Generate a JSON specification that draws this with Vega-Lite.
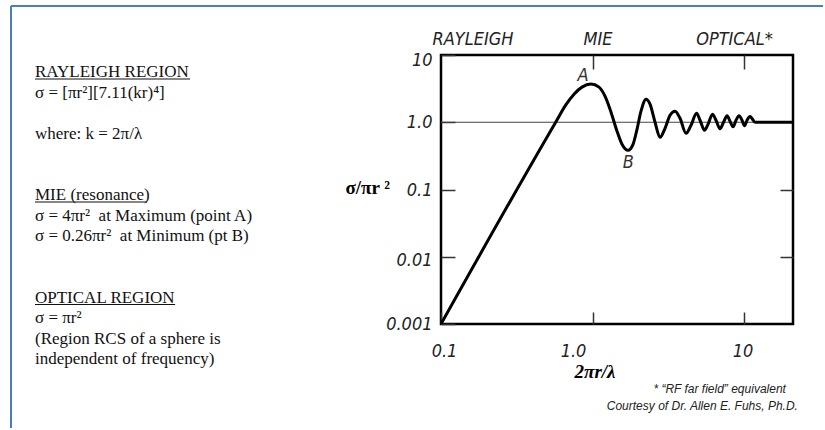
{
  "$schema": "https://vega.github.io/schema/vega-lite/v6.json",
  "background": "white",
  "padding": {"left": 10, "top": 5, "right": 0, "bottom": 0},
  "bounds": "flush",
  "spacing": 130,
  "config": {"view": {"stroke": null}},
  "datasets": {
    "frame": [
      {"x0": 0, "x1": 0, "y0": -3.39, "y1": 17.2},
      {"x0": 0, "x1": 2.7067, "y0": -3.39, "y1": -3.39}
    ],
    "legendText": [
      {"line": 0, "text": "RAYLEIGH REGION"},
      {"line": 1, "text": "σ = [πr²][7.11(kr)⁴]"},
      {"line": 3, "text": "where: k = 2π/λ"},
      {"line": 6, "text": "MIE (resonance)"},
      {"line": 7, "text": "σ = 4πr²\u00a0 at Maximum (point A)"},
      {"line": 8, "text": "σ = 0.26πr²\u00a0 at Minimum (pt B)"},
      {"line": 11, "text": "OPTICAL REGION"},
      {"line": 12, "text": "σ = πr²"},
      {"line": 13, "text": "(Region RCS of a sphere is"},
      {"line": 14, "text": "independent of frequency)"}
    ],
    "underlines": [
      {"line": 0, "from": 0.08, "to": 0.597},
      {"line": 6, "from": 0.08, "to": 0.453},
      {"line": 11, "from": 0.08, "to": 0.547}
    ],
    "curve": [
      {"kr": 0.1, "rcs": 0.001},
      {"kr": 0.574, "rcs": 1.02},
      {"kr": 0.668, "rcs": 1.825},
      {"kr": 0.755, "rcs": 2.618},
      {"kr": 0.852, "rcs": 3.33},
      {"kr": 0.977, "rcs": 3.69},
      {"kr": 1.104, "rcs": 3.33},
      {"kr": 1.209, "rcs": 2.444},
      {"kr": 1.325, "rcs": 1.41},
      {"kr": 1.452, "rcs": 0.734},
      {"kr": 1.566, "rcs": 0.47},
      {"kr": 1.715, "rcs": 0.382},
      {"kr": 1.851, "rcs": 0.47},
      {"kr": 1.967, "rcs": 0.786},
      {"kr": 2.089, "rcs": 1.459},
      {"kr": 2.255, "rcs": 2.205},
      {"kr": 2.397, "rcs": 1.857},
      {"kr": 2.586, "rcs": 1.0},
      {"kr": 2.79, "rcs": 0.597},
      {"kr": 3.01, "rcs": 0.814},
      {"kr": 3.248, "rcs": 1.272},
      {"kr": 3.504, "rcs": 1.459},
      {"kr": 3.781, "rcs": 1.147},
      {"kr": 4.142, "rcs": 0.685},
      {"kr": 4.469, "rcs": 0.902},
      {"kr": 4.86, "rcs": 1.362},
      {"kr": 5.125, "rcs": 1.071},
      {"kr": 5.487, "rcs": 0.76},
      {"kr": 5.788, "rcs": 0.934},
      {"kr": 6.196, "rcs": 1.316},
      {"kr": 6.535, "rcs": 1.071},
      {"kr": 6.944, "rcs": 0.8},
      {"kr": 7.324, "rcs": 1.0},
      {"kr": 7.723, "rcs": 1.25},
      {"kr": 8.083, "rcs": 1.035},
      {"kr": 8.46, "rcs": 0.857},
      {"kr": 8.855, "rcs": 1.071},
      {"kr": 9.268, "rcs": 1.25},
      {"kr": 9.7, "rcs": 1.071},
      {"kr": 10.08, "rcs": 0.887},
      {"kr": 10.47, "rcs": 1.071},
      {"kr": 10.96, "rcs": 1.216},
      {"kr": 11.38, "rcs": 1.108},
      {"kr": 11.82, "rcs": 1.0},
      {"kr": 21.05, "rcs": 1.0}
    ],
    "regions": [
      {"kr": 0.1626, "rcs": 10, "label": "RAYLEIGH"},
      {"kr": 1.087, "rcs": 10, "label": "MIE"},
      {"kr": 8.65, "rcs": 10, "label": "OPTICAL*"}
    ],
    "points": [
      {"kr": 0.866, "rcs": 4.95, "label": "A"},
      {"kr": 1.72, "rcs": 0.244, "label": "B"}
    ],
    "xTitle": [{"kr": 1.039, "rcs": 0.000193, "label": "2πr/λ"}],
    "yTitle": [{"kr": 0.0461, "rcs": 0.105, "label": "σ/πr ²"}],
    "credits": [
      {"kr": 18.9, "rcs": 0.000108, "label": "* “RF far field” equivalent"},
      {"kr": 22.7, "rcs": 0.0000604, "label": "Courtesy of Dr. Allen E. Fuhs, Ph.D."}
    ]
  },
  "hconcat": [
    {
      "width": 300,
      "height": 307.5,
      "layer": [
        {
          "data": {"name": "frame"},
          "mark": {"type": "rule", "color": "#4a7ebb", "strokeWidth": 2, "clip": false},
          "encoding": {
            "x": {"field": "x0", "type": "quantitative", "scale": {"domain": [0, 1], "nice": false, "zero": false}, "axis": null},
            "x2": {"field": "x1"},
            "y": {"field": "y0", "type": "quantitative", "scale": {"domain": [-1, 14], "nice": false, "zero": false, "reverse": true}, "axis": null},
            "y2": {"field": "y1"}
          }
        },
        {
          "data": {"name": "legendText"},
          "mark": {"type": "text", "align": "left", "baseline": "alphabetic", "dy": 1.5, "font": "Liberation Serif", "fontSize": 17, "color": "#111"},
          "encoding": {
            "x": {"datum": 0.08, "type": "quantitative", "scale": {"domain": [0, 1], "nice": false, "zero": false}, "axis": null},
            "y": {"field": "line", "type": "quantitative", "scale": {"domain": [-1, 14], "nice": false, "zero": false, "reverse": true}, "axis": null},
            "text": {"field": "text"}
          }
        },
        {
          "data": {"name": "underlines"},
          "mark": {"type": "rule", "color": "#111", "strokeWidth": 1.2, "yOffset": 3.5},
          "encoding": {
            "x": {"field": "from", "type": "quantitative", "scale": {"domain": [0, 1], "nice": false, "zero": false}, "axis": null},
            "x2": {"field": "to"},
            "y": {"field": "line", "type": "quantitative", "scale": {"domain": [-1, 14], "nice": false, "zero": false, "reverse": true}, "axis": null}
          }
        }
      ]
    },
    {
      "width": 352,
      "height": 269,
      "view": {"stroke": "black", "strokeWidth": 2.5},
      "resolve": {"axis": {"x": "independent", "y": "independent"}},
      "layer": [
        {
          "data": {"values": [{"level": 1}]},
          "mark": {"type": "rule", "color": "#444", "strokeWidth": 1.2},
          "encoding": {
            "y": {
              "field": "level", "type": "quantitative",
              "scale": {"type": "log", "domain": [0.001, 10], "nice": false},
              "axis": {"orient": "right", "values": [0.01, 0.1], "labels": false, "domain": false, "grid": false, "tickSize": -13, "tickColor": "#333", "tickWidth": 1.5, "title": null}
            }
          }
        },
        {
          "data": {"name": "curve"},
          "mark": {"type": "line", "color": "black", "strokeWidth": 3, "interpolate": "monotone", "strokeJoin": "round", "clip": true},
          "encoding": {
            "x": {
              "field": "kr", "type": "quantitative",
              "scale": {"type": "log", "domain": [0.1, 21.05], "nice": false},
              "axis": {
                "orient": "bottom", "values": [0.1, 1, 10], "format": "~g",
                "labelExpr": "datum.value == 1 ? '1.0' : datum.label",
                "labelFlush": false,
                "labelFont": "'Liberation Sans Narrow', 'DejaVu Sans Condensed', sans-serif",
                "labelFontSize": 18, "labelFontStyle": "italic", "labelColor": "#222",
                "labelPadding": 30,
                "labelOffset": {"condition": [{"test": "datum.value == 1", "value": -19.5}, {"test": "datum.value < 0.5", "value": 3}], "value": -1.5},
                "tickSize": -12, "tickColor": "#333", "tickWidth": 1.5,
                "domain": false, "grid": false, "title": null
              }
            },
            "y": {
              "field": "rcs", "type": "quantitative",
              "scale": {"type": "log", "domain": [0.001, 10], "nice": false},
              "axis": {
                "orient": "left", "values": [0.001, 0.01, 0.1, 1, 10], "format": "~g",
                "labelExpr": "datum.value == 1 ? '1.0' : datum.label",
                "labelFlush": false,
                "labelFont": "'Liberation Sans Narrow', 'DejaVu Sans Condensed', sans-serif",
                "labelFontSize": 18, "labelFontStyle": "italic", "labelColor": "#222",
                "labelPadding": 23, "labelBaseline": "middle",
                "labelOffset": {"condition": [{"test": "datum.value == 10", "value": 5.5}, {"test": "datum.value == 0.01", "value": 4}], "value": 0.5},
                "tickSize": -14, "tickColor": "#333", "tickWidth": 1.5,
                "domain": false, "grid": false, "title": null
              }
            }
          }
        },
        {
          "data": {"name": "regions"},
          "mark": {"type": "text", "align": "center", "baseline": "alphabetic", "dy": -10, "font": "'Liberation Sans Narrow', 'DejaVu Sans Condensed', sans-serif", "fontSize": 18, "fontStyle": "italic", "color": "#222"},
          "encoding": {
            "x": {
              "field": "kr", "type": "quantitative",
              "scale": {"type": "log", "domain": [0.1, 21.05], "nice": false},
              "axis": {"orient": "top", "values": [1, 10], "labels": false, "domain": false, "grid": false, "tickSize": -14, "tickColor": "#333", "tickWidth": 1.5, "title": null}
            },
            "y": {"field": "rcs", "type": "quantitative", "scale": {"type": "log", "domain": [0.001, 10], "nice": false}, "axis": null},
            "text": {"field": "label"}
          }
        },
        {
          "data": {"name": "points"},
          "mark": {"type": "text", "align": "center", "baseline": "middle", "font": "'Liberation Sans Narrow', 'DejaVu Sans Condensed', sans-serif", "fontSize": 18, "fontStyle": "italic", "color": "#333"},
          "encoding": {
            "x": {"field": "kr", "type": "quantitative", "scale": {"type": "log", "domain": [0.1, 21.05], "nice": false}, "axis": null},
            "y": {"field": "rcs", "type": "quantitative", "scale": {"type": "log", "domain": [0.001, 10], "nice": false}, "axis": null},
            "text": {"field": "label"}
          }
        },
        {
          "data": {"name": "xTitle"},
          "mark": {"type": "text", "align": "center", "baseline": "middle", "font": "Liberation Serif", "fontSize": 19, "fontWeight": "bold", "fontStyle": "italic", "color": "black"},
          "encoding": {
            "x": {"field": "kr", "type": "quantitative", "scale": {"type": "log", "domain": [0.1, 21.05], "nice": false}, "axis": null},
            "y": {"field": "rcs", "type": "quantitative", "scale": {"type": "log", "domain": [0.001, 10], "nice": false}, "axis": null},
            "text": {"field": "label"}
          }
        },
        {
          "data": {"name": "yTitle"},
          "mark": {"type": "text", "align": "right", "baseline": "middle", "font": "Liberation Serif", "fontSize": 19, "fontWeight": "bold", "color": "black"},
          "encoding": {
            "x": {"field": "kr", "type": "quantitative", "scale": {"type": "log", "domain": [0.1, 21.05], "nice": false}, "axis": null},
            "y": {"field": "rcs", "type": "quantitative", "scale": {"type": "log", "domain": [0.001, 10], "nice": false}, "axis": null},
            "text": {"field": "label"}
          }
        },
        {
          "data": {"name": "credits"},
          "mark": {"type": "text", "align": "right", "baseline": "middle", "font": "Liberation Sans", "fontSize": 12, "fontStyle": "italic", "color": "#222"},
          "encoding": {
            "x": {"field": "kr", "type": "quantitative", "scale": {"type": "log", "domain": [0.1, 21.05], "nice": false}, "axis": null},
            "y": {"field": "rcs", "type": "quantitative", "scale": {"type": "log", "domain": [0.001, 10], "nice": false}, "axis": null},
            "text": {"field": "label"}
          }
        }
      ]
    }
  ]
}
